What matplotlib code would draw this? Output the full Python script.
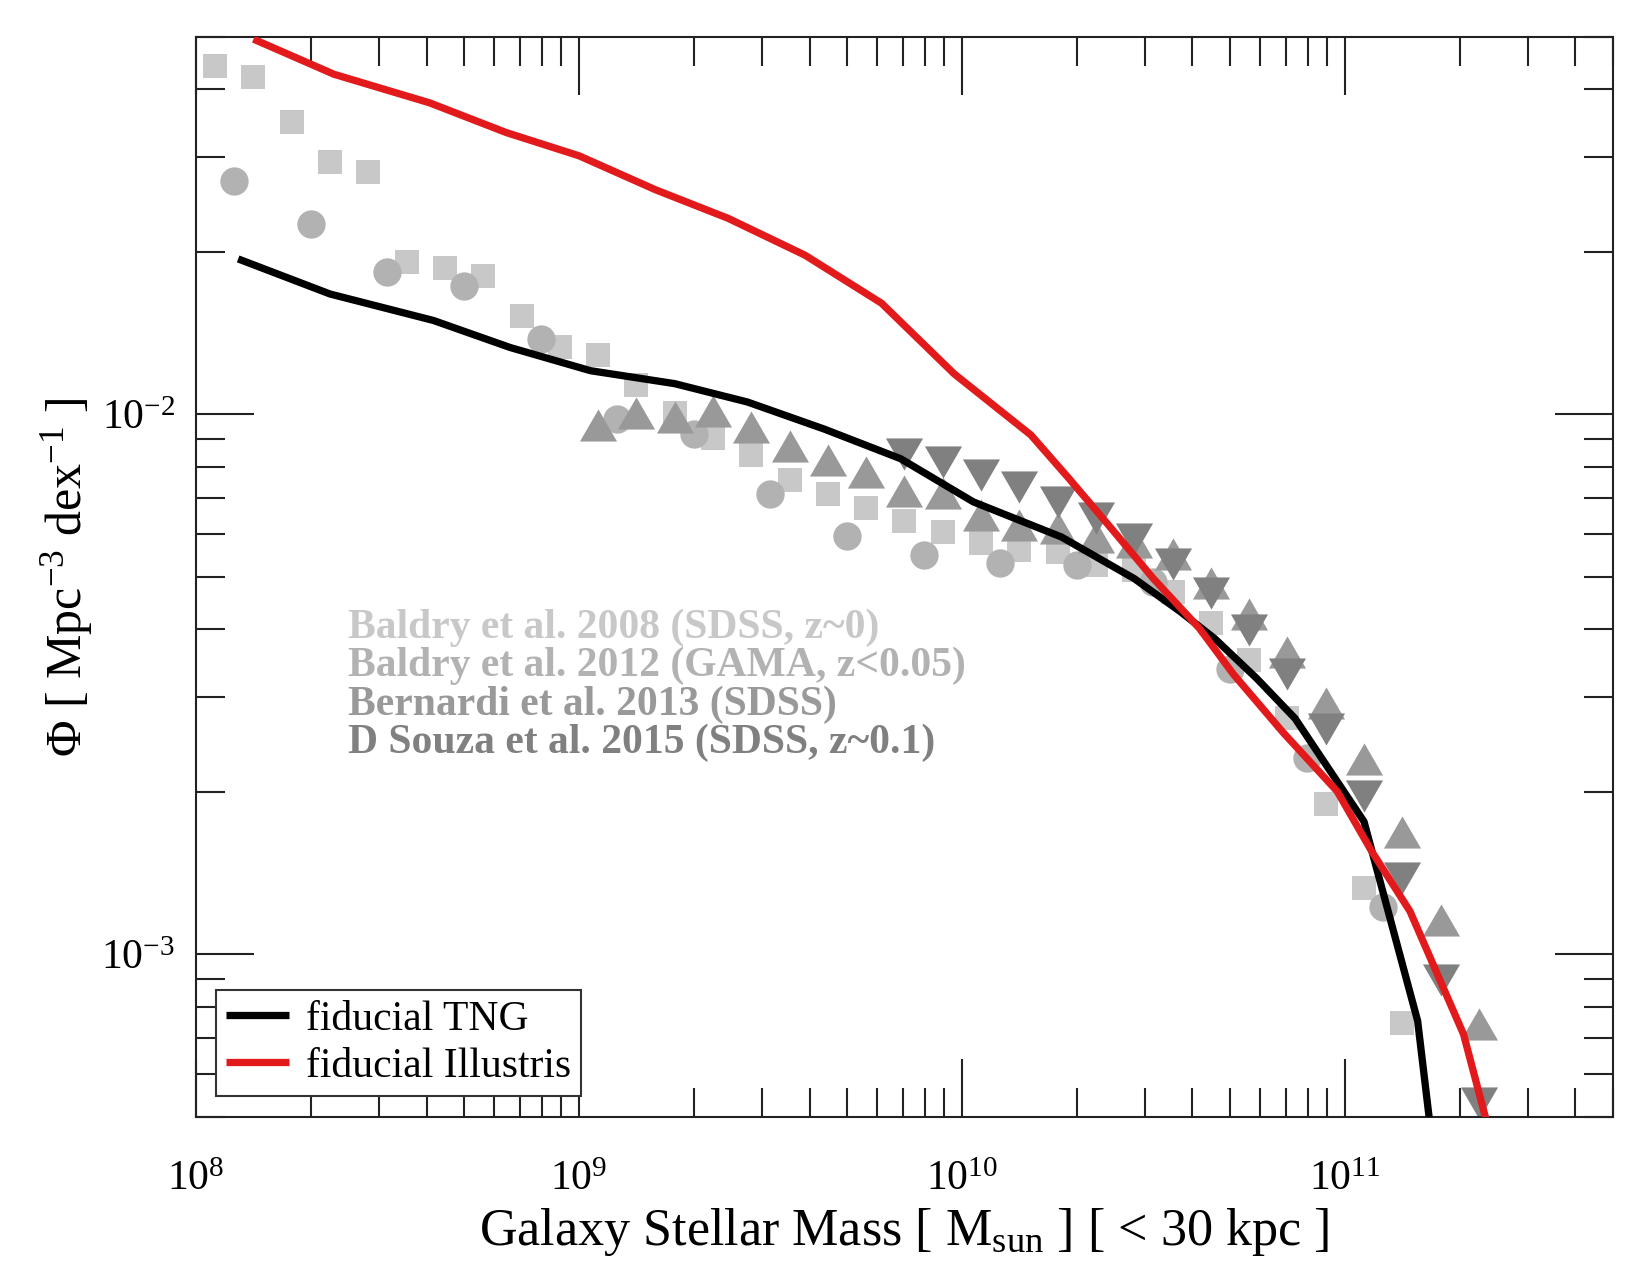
import numpy as np
import matplotlib
matplotlib.use('Agg')
import matplotlib.pyplot as plt
from matplotlib.ticker import LogLocator, FuncFormatter, NullFormatter

plt.rcParams['font.family'] = ['Liberation Serif', 'DejaVu Serif']
plt.rcParams['mathtext.fontset'] = 'custom'
plt.rcParams['mathtext.rm'] = 'Liberation Serif'
plt.rcParams['mathtext.it'] = 'Liberation Serif:italic'
plt.rcParams['mathtext.bf'] = 'Liberation Serif:bold'

# ------------- data (log10 stellar mass, log10 phi) --------------
# Baldry et al. 2008 (squares)
b08_logm = [8.05, 8.15, 8.25, 8.35, 8.45, 8.55, 8.65, 8.75, 8.85, 8.95, 9.05,
            9.15, 9.25, 9.35, 9.45, 9.55, 9.65, 9.75, 9.85, 9.95, 10.05, 10.15,
            10.25, 10.35, 10.45, 10.55, 10.65, 10.75, 10.85, 10.95, 11.05, 11.15]
b08_logphi = [-1.355, -1.375, -1.459, -1.532, -1.551, -1.717, -1.728, -1.744,
              -1.817, -1.876, -1.890, -1.945, -1.997, -2.044, -2.075, -2.121,
              -2.148, -2.174, -2.198, -2.218, -2.238, -2.251, -2.255, -2.279,
              -2.288, -2.328, -2.386, -2.455, -2.563, -2.722, -2.876, -3.126]

# Baldry et al. 2012 (circles)
b12_logm = [8.1, 8.3, 8.5, 8.7, 8.9, 9.1, 9.3, 9.5, 9.7, 9.9, 10.1, 10.3,
            10.5, 10.7, 10.9, 11.1]
b12_logphi = [-1.567, -1.648, -1.736, -1.763, -1.861, -2.008, -2.036, -2.148,
              -2.225, -2.260, -2.276, -2.279, -2.310, -2.471, -2.637, -2.912]

# Bernardi et al. 2013 (up triangles)
ber_logm = [9.05, 9.15, 9.25, 9.35, 9.45, 9.55, 9.65, 9.75, 9.85, 9.95, 10.05,
            10.15, 10.25, 10.35, 10.45, 10.55, 10.65, 10.75, 10.85, 10.95,
            11.05, 11.15, 11.25, 11.35]
ber_logphi = [-2.019, -1.997, -2.004, -1.993, -2.023, -2.058, -2.085, -2.107,
              -2.142, -2.145, -2.187, -2.204, -2.210, -2.227, -2.236, -2.259,
              -2.312, -2.370, -2.439, -2.535, -2.638, -2.774, -2.936, -3.128]

# D Souza et al. 2015 (down triangles)
dso_logm = [9.85, 9.95, 10.05, 10.15, 10.25, 10.35, 10.45, 10.55, 10.65,
            10.75, 10.85, 10.95, 11.05, 11.15, 11.25, 11.35]
dso_logphi = [-2.073, -2.089, -2.112, -2.134, -2.162, -2.192, -2.230, -2.277,
              -2.330, -2.400, -2.481, -2.582, -2.707, -2.859, -3.047, -3.275]

# fiducial TNG
tng_logm = [8.11, 8.35, 8.62, 8.82, 9.03, 9.25, 9.44, 9.64, 9.84, 10.03,
            10.26, 10.45, 10.57, 10.66, 10.77, 10.87, 11.05, 11.19, 11.25]
tng_logphi = [-1.712, -1.777, -1.826, -1.876, -1.919, -1.943, -1.977, -2.027,
              -2.082, -2.162, -2.227, -2.304, -2.365, -2.415, -2.489, -2.563,
              -2.754, -3.123, -3.48]

# fiducial Illustris
ill_logm = [8.15, 8.36, 8.61, 8.81, 9.00, 9.20, 9.39, 9.59, 9.79, 9.98, 10.18,
            10.28, 10.39, 10.50, 10.62, 10.71, 10.84, 10.98, 11.07, 11.17,
            11.31, 11.40]
ill_logphi = [-1.305, -1.370, -1.423, -1.478, -1.521, -1.584, -1.637, -1.705,
              -1.794, -1.925, -2.038, -2.119, -2.211, -2.304, -2.396, -2.482,
              -2.590, -2.698, -2.809, -2.920, -3.148, -3.39]

obs_labels = ['Baldry et al. 2008 (SDSS, z~0)',
              'Baldry et al. 2012 (GAMA, z<0.05)',
              'Bernardi et al. 2013 (SDSS)',
              'D Souza et al. 2015 (SDSS, z~0.1)']
obs_colors = ['#c8c8c8', '#b2b2b2', '#999999', '#808080']

# ------------- plotting --------------
tri_up = [(-1, -0.866), (1, -0.866), (0, 0.866), (-1, -0.866)]
tri_down = [(-1, 0.866), (1, 0.866), (0, -0.866), (-1, 0.866)]

fig = plt.figure(figsize=(11, 8.5), dpi=150)
ax = fig.add_axes([0.1188, 0.1239, 0.8585, 0.8471])

def p(a):
    return 10 ** np.array(a)

ax.plot(p(b08_logm), p(b08_logphi), ls='none', marker='s', ms=11.7,
        mfc=obs_colors[0], mec='none', zorder=2)
ax.plot(p(b12_logm), p(b12_logphi), ls='none', marker='o', ms=13.6,
        mfc=obs_colors[1], mec='none', zorder=2)
ax.plot(p(ber_logm), p(ber_logphi), ls='none', marker=tri_up, ms=17.8,
        mfc=obs_colors[2], mec='none', zorder=2)
ax.plot(p(dso_logm), p(dso_logphi), ls='none', marker=tri_down, ms=17.8,
        mfc=obs_colors[3], mec='none', zorder=2)

ax.plot(p(tng_logm), p(tng_logphi), color='black', lw=3.5,
        solid_capstyle='butt', label='fiducial TNG', zorder=3)
ax.plot(p(ill_logm), p(ill_logphi), color='#e31a1c', lw=3.5,
        solid_capstyle='butt', label='fiducial Illustris', zorder=3)

ax.set_xscale('log')
ax.set_yscale('log')
ax.set_xlim(1e8, 5e11)
ax.set_ylim(5e-4, 5e-2)

fmt = FuncFormatter(lambda v, pos: r'$\mathregular{10^{%d}}$' % round(np.log10(v)))
for axis in (ax.xaxis, ax.yaxis):
    axis.set_major_locator(LogLocator(base=10, numticks=20))
    axis.set_minor_locator(LogLocator(base=10, subs=np.arange(2, 10), numticks=20))
    axis.set_major_formatter(fmt)
    axis.set_minor_formatter(NullFormatter())

ax.tick_params(which='both', direction='in', top=True, right=True,
               width=1.0, color='#222222', labelsize=20)
ax.tick_params(which='major', length=27.7)
ax.tick_params(which='minor', length=14)
ax.tick_params(axis='x', which='major', pad=21)
ax.tick_params(axis='y', which='major', pad=10)
for s in ax.spines.values():
    s.set_linewidth(1.0)
    s.set_color('#222222')

ax.set_xlabel(r'Galaxy Stellar Mass [ M$_{\rm sun}$ ] [ < 30 kpc ]',
              fontsize=25, labelpad=3)
ax.set_ylabel(r'Φ [ Mpc$^{-3}$ dex$^{-1}$ ]', fontsize=24, labelpad=3)

for i in range(4):
    ax.text(0.107, 0.4435 - 0.0355 * i, obs_labels[i], transform=ax.transAxes,
            fontsize=20, fontweight='bold', color=obs_colors[i],
            ha='left', va='baseline')

leg = ax.legend(loc='lower left', bbox_to_anchor=(0.0141, 0.0194),
                borderaxespad=0, fontsize=20, handlelength=1.5,
                handletextpad=0.4, borderpad=0.25, labelspacing=0.2,
                fancybox=False, framealpha=1)
leg.get_frame().set_edgecolor('#333333')
leg.get_frame().set_linewidth(1.0)

fig.savefig('out.png', dpi=150)
